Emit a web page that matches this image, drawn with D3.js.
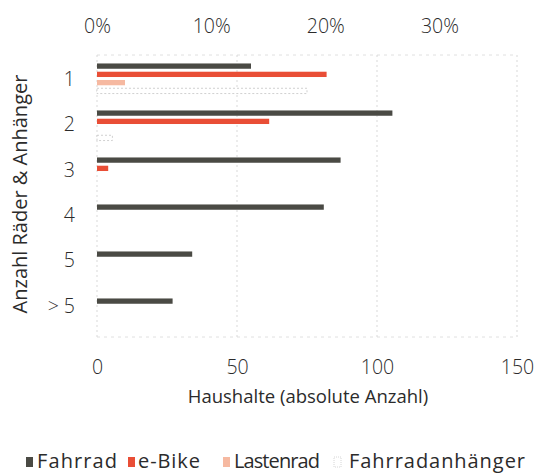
<!DOCTYPE html>
<html><head><meta charset="utf-8">
<script src="https://cdn.jsdelivr.net/npm/d3@7"></script>
<style>
body{margin:0;background:#fff;}
text{font-family:"Open Sans","DejaVu Sans",sans-serif;fill:#2b2b2b;}
</style></head>
<body><svg id="c" width="539" height="476"></svg>
<script>
const categories = ["1","2","3","4","5","> 5"];
const series = ["Fahrrad","e-Bike","Lastenrad","Fahrradanhänger"];
const fahrrad = [55, 105.5, 87, 81, 34, 27];
const eBike = [82, 61.5, 4, 0, 0, 0];
const lastenrad = [10, 0, 0, 0, 0, 0];
const anhaenger = [75, 5.5, 0, 0, 0, 0];
const xTicks = [0, 50, 100, 150];
const pctTicks = [0, 10, 20, 30];
const pctMax = 36.8;
const colors = ["#4a4a44","#e94e36","#f6b9a1","#ffffff"];

const values = [fahrrad, eBike, lastenrad, anhaenger];
const svg = d3.select("#c");
const L = 97, R = 517, T = 55, B = 337;
const x = d3.scaleLinear().domain([0,150]).range([L,R]);
const xp = d3.scaleLinear().domain([0,pctMax]).range([L,R]);
const y = d3.scaleBand().domain(categories).range([T,B]).paddingInner(0.36).paddingOuter(0.18);
const ys = d3.scaleBand().domain(series).range([0,y.bandwidth()]).paddingInner(0.36);
const yLabel = d3.scaleBand().domain(categories).range([T+2,B-8]);

// grid
svg.append("g").selectAll("line").data(xTicks).join("line")
  .attr("x1",d=>x(d)).attr("x2",d=>x(d)).attr("y1",T).attr("y2",B)
  .attr("stroke","#cfcfcf").attr("stroke-width",0.8).attr("stroke-dasharray","2,3");
svg.append("line").attr("x1",L).attr("x2",R).attr("y1",T).attr("y2",T)
  .attr("stroke","#d8d8d8").attr("stroke-width",0.8).attr("stroke-dasharray","3,4");
svg.append("line").attr("x1",L).attr("x2",R).attr("y1",B).attr("y2",B)
  .attr("stroke","#d8d8d8").attr("stroke-width",0.8).attr("stroke-dasharray","3,4");

// bars
const data = [];
categories.forEach((c,i)=>series.forEach((s,j)=>data.push({c,s,j,v:values[j][i]})));
svg.append("g").selectAll("rect").data(data.filter(d=>d.v>0)).join("rect")
  .attr("x",x(0)).attr("y",d=>y(d.c)+ys(d.s))
  .attr("width",d=>x(d.v)-x(0)).attr("height",ys.bandwidth())
  .attr("fill",d=>colors[d.j])
  .attr("stroke",d=>d.j===3?"#c4c4c4":"none")
  .attr("stroke-width",0.8).attr("stroke-dasharray",d=>d.j===3?"2,2":null);

// axes
const gBottom = svg.append("g").attr("transform",`translate(0,${B})`)
  .call(d3.axisBottom(x).tickValues(xTicks).tickSize(0).tickPadding(23));
const gTop = svg.append("g").attr("transform",`translate(0,${T})`)
  .call(d3.axisTop(xp).tickValues(pctTicks).tickFormat(d=>d+"%").tickSize(0).tickPadding(22));
const gLeft = svg.append("g").attr("transform",`translate(${L},0)`)
  .call(d3.axisLeft(yLabel).tickSize(0).tickPadding(22));
[gBottom,gTop,gLeft].forEach(g=>{g.select(".domain").remove();
  g.selectAll("text").style("font-size","19.5px").style("font-weight","300").attr("fill","#2b2b2b");});

svg.append("text").attr("x",308).attr("y",403).attr("text-anchor","middle")
  .style("font-size","18.5px").style("font-weight","400")
  .text("Haushalte (absolute Anzahl)");
svg.append("text").attr("transform",`translate(27,${194}) rotate(-90)`).attr("text-anchor","middle")
  .style("font-size","20px").style("font-weight","400").text("Anzahl Räder & Anhänger");

// legend
const lg = svg.append("g");
const lx = [26, 128, 223, 334];
const tx = [37, 138, 234, 349];
const lw = [80, 62, 86, 176];
series.forEach((s,j)=>{
  lg.append("rect").attr("x",lx[j]).attr("y",457).attr("width",7).attr("height",10)
    .attr("fill",colors[j]).attr("stroke",j===3?"#ccc":"none").attr("stroke-dasharray","1,1").attr("stroke-width",0.8);
  lg.append("text").attr("x",tx[j]).attr("y",468).style("font-size","20px").style("font-weight","400")
    .attr("textLength",lw[j]).attr("lengthAdjust","spacing").text(s);
});
</script></body></html>
